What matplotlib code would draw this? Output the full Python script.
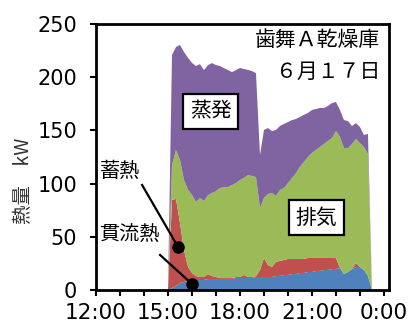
import numpy as np
import matplotlib
matplotlib.use("Agg")
import matplotlib.pyplot as plt
from matplotlib.ticker import MultipleLocator, FixedLocator

plt.rcParams['font.family'] = ['DejaVu Sans', 'Noto Sans CJK JP']
JP = ['Noto Sans CJK JP', 'DejaVu Sans']

# 10-minute samples, 15:00 - 23:30 (hours)
hours = np.arange(15.0, 23.5 + 1e-9, 1.0 / 6.0)

# heat flows [kW]
kanryu = [0, 1.9, 3.8, 6.6, 7.5, 8.5, 8.5, 9.4, 9.4, 9.4, 10.3, 10.3, 10.3, 10.3,
          10.3, 10.3, 10.3, 11.3, 11.3, 11.3, 11.3, 11.3, 12.2, 12.2, 12.2, 12.2,
          12.2, 13.2, 13.2, 14.1, 14.1, 15.0, 15.0, 16.0, 16.0, 16.9, 16.9, 17.9,
          17.9, 18.8, 18.8, 19.7, 19.7, 20.7, 15.0, 16.9, 19.7, 21.6, 21.6, 18.8,
          13.2, 0]
chikunetsu = [0, 82.7, 81.8, 56.4, 30.1, 13.2, 7.5, 3.8, 2.8, 2.8, 4.7, 2.8, 1.9,
              0.9, 0.9, 0.9, 0.9, 0.9, 0.9, 2.8, 0.9, 0.9, 0.9, 6.6, 17.9, 11.3,
              9.4, 13.2, 14.1, 14.1, 15.0, 14.1, 14.1, 13.2, 13.2, 13.2, 13.2,
              12.2, 12.2, 11.3, 11.3, 10.3, 10.3, 0, 0, 0, 0, 3.8, 0, 0, 0, 0]
haiki = [0, 32.9, 46.0, 59.2, 65.8, 72.4, 73.3, 69.5, 74.2, 71.4, 74.2, 78.0, 80.8,
         84.6, 85.5, 85.5, 87.4, 88.3, 91.2, 91.2, 95.9, 94.9, 93.0, 58.3, 56.4,
         66.7, 69.5, 62.0, 66.7, 67.7, 71.4, 76.1, 80.8, 86.5, 91.2, 94.9, 98.7,
         101.5, 104.3, 107.1, 110.0, 112.8, 119.4, 123.1, 118.4, 116.5, 117.5,
         116.5, 116.5, 115.6, 114.7, 0]
johatsu = [0, 103.4, 96.8, 108.1, 120.3, 124.1, 124.1, 127.8, 125.9, 123.1, 122.2,
           122.2, 118.4, 114.7, 111.8, 110.0, 106.2, 106.2, 105.3, 102.4, 98.7,
           98.7, 97.7, 49.8, 63.9, 62.0, 58.3, 62.0, 60.2, 60.2, 57.3, 54.5, 50.8,
           47.0, 44.2, 41.4, 40.4, 38.5, 36.7, 33.8, 32.9, 32.9, 27.3, 25.4, 26.3,
           25.4, 16.9, 15.0, 15.0, 11.3, 18.8, 0]

colors = ['#4f81bd', '#c0504d', '#9bbb59', '#8064a2']

xtick_pos = [12, 15, 18, 21, 24]
xtick_labels = ['12:00', '15:00', '18:00', '21:00', '0:00']

fig = plt.figure(figsize=(4.11, 3.23), dpi=100)
ax = fig.add_axes([0.2336, 0.1022, 0.7129, 0.8235])

ax.stackplot(hours, kanryu, chikunetsu, haiki, johatsu, colors=colors,
             linewidth=0, antialiased=True)

ax.set_xlim(12, 24.21)
ax.set_ylim(0, 250)
ax.xaxis.set_major_locator(FixedLocator(xtick_pos))
ax.set_xticklabels(xtick_labels)
ax.xaxis.set_minor_locator(MultipleLocator(1))
ax.yaxis.set_major_locator(MultipleLocator(50))

for s in ax.spines.values():
    s.set_linewidth(2.0)
ax.tick_params(axis='both', which='both', direction='out', length=4.5, width=1.5,
               labelsize=15)
ax.tick_params(axis='x', labelsize=15.5, pad=5)
ax.tick_params(axis='y', pad=9)

ax.set_ylabel('熱量　kW', family=JP, fontsize=14, color='#333333')
ax.yaxis.set_label_coords(-0.21, 0.41)

# title block
ax.text(0.969, 0.94, '歯舞Ａ乾燥庫', transform=ax.transAxes, ha='right',
        va='center', family=JP, fontsize=15)
ax.text(0.969, 0.82, '６月１７日', transform=ax.transAxes, ha='right',
        va='center', family=JP, fontsize=15)

# boxed layer names
box = dict(boxstyle='square,pad=0.32', fc='white', ec='black', lw=1.6)
ax.text(16.79, 168, '蒸発', ha='center', va='center', family=JP, fontsize=15,
        bbox=box)
ax.text(21.17, 68, '排気', ha='center', va='center', family=JP, fontsize=15,
        bbox=box)

# callouts with dot markers
ax.text(13.0, 111, '蓄熱', ha='center', va='center', family=JP, fontsize=14.5)
ax.plot([13.92, 15.42], [98.7, 40.4], color='black', lw=1.6)
ax.plot([15.42], [40.4], 'o', color='black', ms=8)

ax.text(13.42, 52, '貫流熱', ha='center', va='center', family=JP, fontsize=14.5)
ax.plot([14.67, 16.0], [32.9, 5.6], color='black', lw=1.6, clip_on=False)
ax.plot([16.0], [5.6], 'o', color='black', ms=8, clip_on=False, zorder=5)

fig.savefig('out.png', dpi=100)
